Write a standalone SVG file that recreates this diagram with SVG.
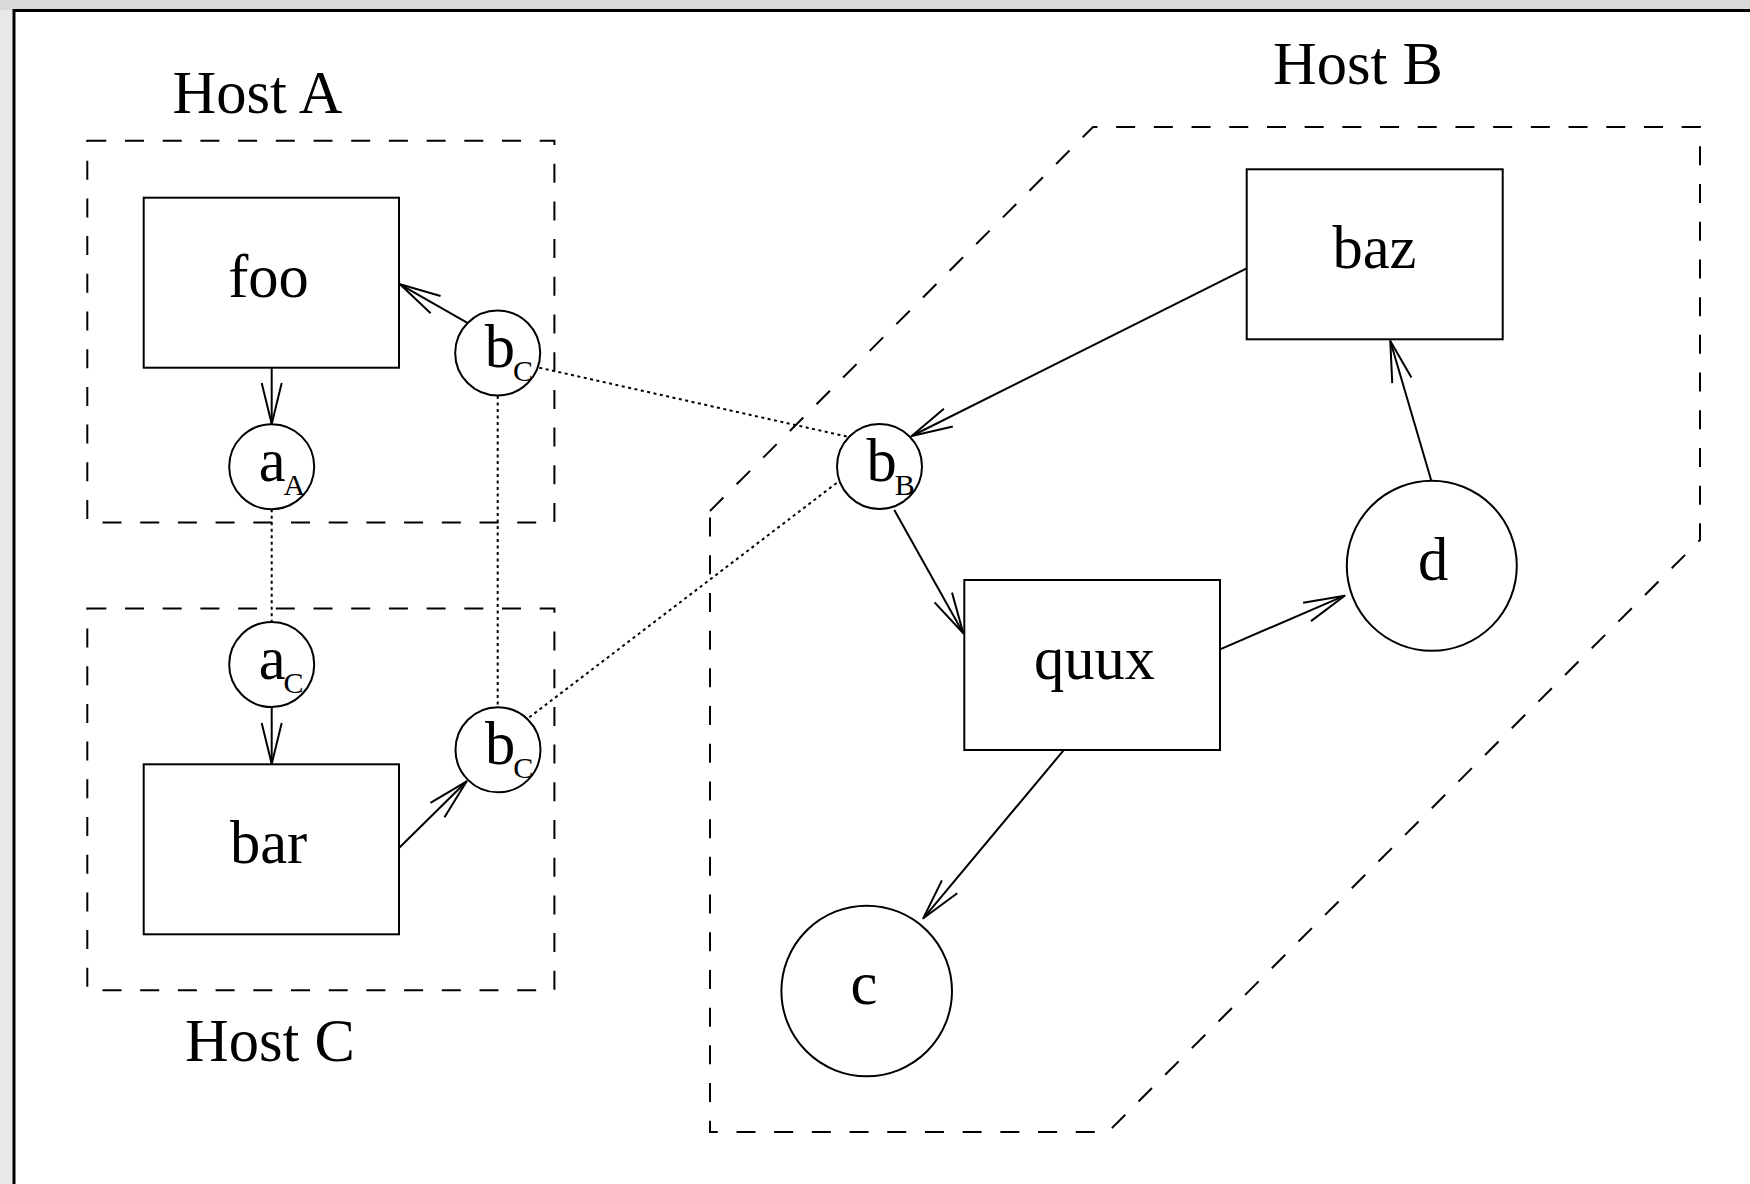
<svg xmlns="http://www.w3.org/2000/svg" width="1750" height="1184" viewBox="0 0 1750 1184">
<style>
.lbl{font-family:"Liberation Serif","Times New Roman",serif;font-size:60.5px;fill:#000}
.sub{font-size:30px}
.box{fill:#fff;stroke:#000;stroke-width:2}
.node{fill:#fff;stroke:#000;stroke-width:2}
.host{fill:none;stroke:#000;stroke-width:2;stroke-dasharray:19 18.7}
.edge{fill:none;stroke:#000;stroke-width:2;marker-end:url(#arr)}
.dot{fill:none;stroke:#000;stroke-width:2;stroke-dasharray:3 3.5}
</style>
<defs>
<marker id="arr" markerUnits="userSpaceOnUse" viewBox="-46 -15 50 30" markerWidth="50" markerHeight="30" refX="0" refY="0" orient="auto" overflow="visible">
<path d="M-41,-10 L0,0 L-41,10" fill="none" stroke="#000" stroke-width="2" stroke-linejoin="round"/>
</marker>
</defs>
<rect x="0" y="0" width="1750" height="1184" fill="#e8e8e8"/>
<rect x="0" y="0" width="1750" height="10" fill="#d9d9d9"/>
<rect x="14" y="10" width="1736" height="1174" fill="#fff"/>
<path d="M14,1184 L14,10.5 L1750,10.5" fill="none" stroke="#000" stroke-width="3"/>

<g id="hosts">
<rect id="hostA" class="host" x="87.3" y="140.7" width="467.1" height="381.8"/>
<rect id="hostC" class="host" x="87.3" y="608.5" width="467.1" height="381.8"/>
<polygon id="hostB" class="host" points="710,511 1093,127 1700,127 1700,540 1108,1132 710,1132"/>
<text class="lbl" x="257.5" y="113" text-anchor="middle">Host A</text>
<text class="lbl" x="1358" y="84" text-anchor="middle">Host B</text>
<text class="lbl" x="270" y="1061" text-anchor="middle">Host C</text>
</g>

<g id="connectors">
<line class="dot" x1="271.7" y1="509.3" x2="271.7" y2="622"/>
<line class="dot" x1="497.7" y1="396" x2="497.7" y2="707"/>
<line class="dot" x1="539.3" y1="367.7" x2="847.7" y2="436.7"/>
<line class="dot" x1="529.3" y1="717.3" x2="838.3" y2="481.7"/>
<line class="edge" x1="271.7" y1="367.7" x2="271.7" y2="424"/>
<line class="edge" x1="468.3" y1="323.3" x2="400" y2="284.3"/>
<line class="edge" x1="271.7" y1="707" x2="271.7" y2="764"/>
<line class="edge" x1="399" y1="848" x2="466.7" y2="781.3"/>
<line class="edge" x1="1246.7" y1="268.3" x2="911.7" y2="436"/>
<line class="edge" x1="894.3" y1="510" x2="963.3" y2="633.3"/>
<line class="edge" x1="1220" y1="649.3" x2="1344.7" y2="595.7"/>
<line class="edge" x1="1431.3" y1="480.8" x2="1390.3" y2="341"/>
<line class="edge" x1="1063.3" y1="750.7" x2="923.3" y2="918.3"/>
</g>

<g id="foo">
<rect class="box" x="143.7" y="197.7" width="255.3" height="170"/>
<text class="lbl" x="268.5" y="296.7" text-anchor="middle">foo</text>
</g>
<g id="bar">
<rect class="box" x="143.7" y="764.3" width="255.3" height="170"/>
<text class="lbl" x="268.5" y="862.7" text-anchor="middle">bar</text>
</g>
<g id="baz">
<rect class="box" x="1246.7" y="169.3" width="256" height="170"/>
<text class="lbl" x="1374.5" y="268" text-anchor="middle">baz</text>
</g>
<g id="quux">
<rect class="box" x="964.3" y="580" width="255.7" height="170"/>
<text class="lbl" x="1094.5" y="678.5" text-anchor="middle">quux</text>
</g>
<g id="aA">
<circle class="node" cx="271.7" cy="466.7" r="42.5"/>
<text class="lbl" x="258.7" y="481">a<tspan class="sub" dx="-2" dy="14">A</tspan></text>
</g>
<g id="aC">
<circle class="node" cx="271.7" cy="664.5" r="42.5"/>
<text class="lbl" x="258.7" y="678.8">a<tspan class="sub" dx="-2" dy="14">C</tspan></text>
</g>
<g id="bC1">
<circle class="node" cx="497.7" cy="353" r="42.5"/>
<text class="lbl" x="484.7" y="367.3">b<tspan class="sub" dx="-2" dy="14">C</tspan></text>
</g>
<g id="bC2">
<circle class="node" cx="498" cy="749.8" r="42.5"/>
<text class="lbl" x="485" y="764.1">b<tspan class="sub" dx="-2" dy="14">C</tspan></text>
</g>
<g id="bB">
<circle class="node" cx="879.5" cy="466.5" r="42.5"/>
<text class="lbl" x="866.5" y="480.8">b<tspan class="sub" dx="-2" dy="14">B</tspan></text>
</g>
<g id="c">
<circle class="node" cx="866.7" cy="991" r="85.3"/>
<text class="lbl" x="864" y="1004" text-anchor="middle">c</text>
</g>
<g id="d">
<circle class="node" cx="1431.8" cy="565.8" r="85"/>
<text class="lbl" x="1433" y="579.5" text-anchor="middle">d</text>
</g>
</svg>
